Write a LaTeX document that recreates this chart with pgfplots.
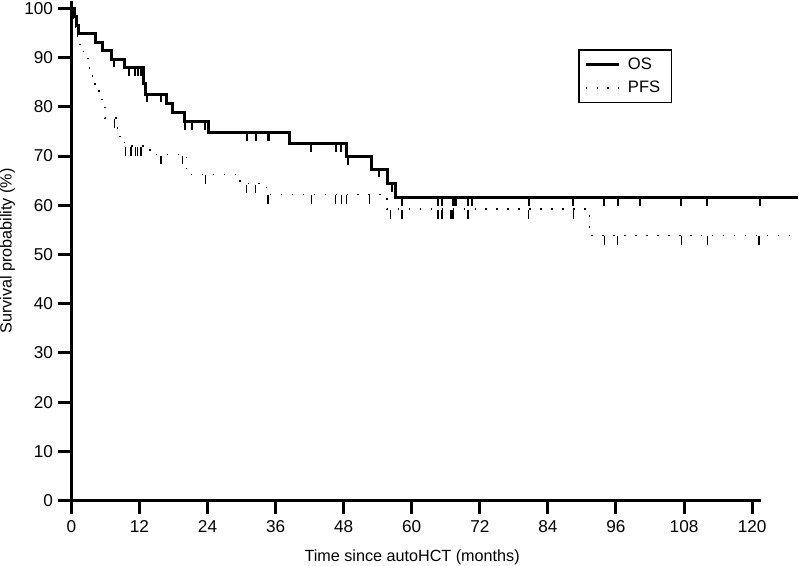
\documentclass[border=0pt]{standalone}
\usepackage{fontspec}
\setmainfont{Liberation Sans}
\usepackage{pgfplots}
\pgfplotsset{compat=1.18}
\pgfdeclareplotmark{censos}{\pgfpathmoveto{\pgfqpoint{0pt}{0pt}}\pgfpathlineto{\pgfqpoint{0pt}{-4pt}}\pgfusepathqstroke}
\pgfdeclareplotmark{censpfs}{\pgfpathmoveto{\pgfqpoint{0pt}{-0.5pt}}\pgfpathlineto{\pgfqpoint{0pt}{-4.8pt}}\pgfusepathqstroke}
\begin{document}
\begin{tikzpicture}
\begin{axis}[
  scale only axis, width=345.5pt, height=250pt,
  xmin=0, xmax=121.6, ymin=0, ymax=101.4,
  axis x line*=bottom, axis y line*=left,
  axis line style={line width=1.5pt, -},
  xtick={0,12,...,120}, ytick={0,10,...,100},
  tick align=outside, major tick length=6.5pt,
  major tick style={black, line width=1.5pt},
  minor tick num=0,
  clip=false,
  /pgf/number format/assume math mode=true,
  ticklabel style={font=\fontsize{8.6}{10}\selectfont},
  xticklabel style={inner sep=0pt, anchor=north, yshift=-3pt},
  yticklabel style={inner sep=0pt, anchor=east, xshift=-2.5pt},
  xlabel={Time since autoHCT (months)},
  ylabel={Survival probability (\%)},
  label style={font=\fontsize{8.1}{10}\selectfont, inner sep=0pt},
  xlabel style={at={(axis description cs:0.494,-0.13)}, anchor=south},
  ylabel style={at={(axis description cs:-0.081,0.5)}, anchor=south},
  legend image code/.code={\draw[#1] (0pt,0pt) -- (17pt,0pt);},
  legend style={at={(0.735,0.904)}, anchor=north west, draw=black, line width=0.65pt,
    font=\fontsize{8.3}{10}\selectfont, inner xsep=2.5pt, inner ysep=1.7pt,
    row sep=0.3pt, column sep=1.5pt, nodes={inner sep=2pt}},
  legend cell align=left,
]
\addplot[const plot, black, line width=1.5pt, line join=miter] coordinates {
(0,100)(0.5,98.3)(0.9,96.6)(1.3,94.8)(4.3,93.1)(5.5,91.4)(7.0,89.7)(9.3,87.9)
(12.7,84.8)(13.1,82.6)(16.7,80.6)(17.8,78.8)(19.9,77.0)(24.2,74.7)(38.4,72.5)
(48.5,69.9)(52.9,67.3)(55.7,64.4)(57.1,61.5)(128,61.5)};
\addlegendentry{OS}
\addplot[const plot, black, line width=0.75pt, dash pattern=on 0.75pt off 4.75pt] coordinates {
(0,100)(0.3,97.5)(0.7,95.0)(1.1,93.0)(1.5,91.2)(2.5,89.8)(3.2,86.6)(3.7,85.0)
(4.2,83.4)(4.9,81.8)(5.4,80.1)(5.9,77.7)(8.1,74.0)(9.4,72.0)(13.9,70.3)(20.3,66.3)
(29.7,64.4)(34.4,62.2)(55.6,59.2)(91.3,53.9)(128,53.9)};
\addlegendentry{PFS\hspace*{1pt}}
\addplot[only marks, mark=censos, mark options={line width=1pt, black}, forget plot] coordinates {
(7.6,89.7)(10.2,87.9)(11.3,87.9)(11.8,87.9)(12.3,87.9)(13.4,82.6)(15.8,82.6)
(20.0,77.0)(21.3,77.0)(23.6,77.0)(30.9,74.7)(32.5,74.7)(34.6,74.7)(34.9,74.7)
(42.3,72.5)(46.6,72.5)(47.6,72.5)(48.7,69.9)(54.2,67.3)(56.5,64.4)(58.3,61.5)
(64.7,61.5)(65.4,61.5)(67.2,61.5)(67.5,61.5)(67.8,61.5)(70.0,61.5)(70.7,61.5)
(80.6,61.5)(88.5,61.5)(93.9,61.5)(96.4,61.5)(100.2,61.5)(107.5,61.5)(112.1,61.5)(121.4,61.5)};
\addplot[only marks, mark=censpfs, mark options={line width=0.7pt, black}, forget plot] coordinates {
(7.6,77.7)(9.5,72.0)(10.5,72.0)(11.3,72.0)(11.7,72.0)(12.3,72.0)(15.8,70.3)(19.6,70.3)
(23.6,66.3)(30.9,64.4)(32.5,64.4)(34.6,62.2)(34.8,62.2)(42.3,62.2)(46.6,62.2)(47.6,62.2)
(48.5,62.2)(52.6,62.2)(56.3,59.2)(58.3,59.2)(64.6,59.2)(65.3,59.2)(66.8,59.2)(67.1,59.2)
(67.4,59.2)(69.9,59.2)(80.6,59.2)(88.5,59.2)(94.0,53.9)(96.3,53.9)(107.5,53.9)(112.1,53.9)(121.2,53.9)};
\end{axis}
\end{tikzpicture}
\end{document}
